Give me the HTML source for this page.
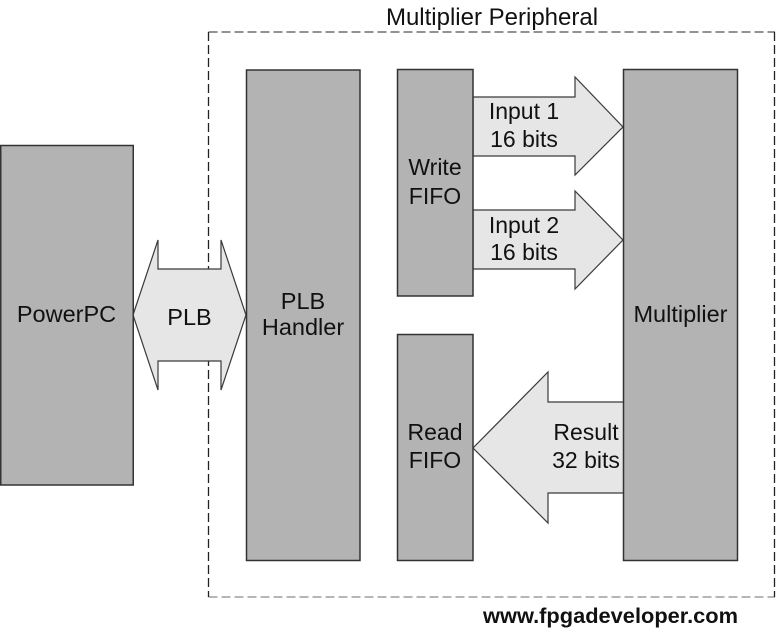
<!DOCTYPE html>
<html>
<head>
<meta charset="utf-8">
<style>
  html, body { margin: 0; padding: 0; background: #ffffff; }
  body { width: 776px; height: 638px; overflow: hidden; }
  svg { display: block; }
  text { font-family: "Liberation Sans", Arial, sans-serif; fill: #111111; }
</style>
</head>
<body>
<svg width="776" height="638" viewBox="0 0 776 638" xmlns="http://www.w3.org/2000/svg">
  <rect x="0" y="0" width="776" height="638" fill="#ffffff"/>

  <!-- Dashed peripheral boundary -->
  <line x1="208.5" y1="32" x2="775" y2="32" stroke="#6e6e6e" stroke-width="1.5" stroke-dasharray="9 4"/>
  <line x1="208.5" y1="597" x2="775" y2="597" stroke="#6e6e6e" stroke-width="1" stroke-dasharray="9 4"/>
  <line x1="208.5" y1="32" x2="208.5" y2="597" stroke="#222222" stroke-width="1.3" stroke-dasharray="9 4"/>
  <line x1="774.5" y1="32" x2="774.5" y2="597" stroke="#222222" stroke-width="1.3" stroke-dasharray="9 4"/>

  <text x="492" y="25" font-size="24" text-anchor="middle">Multiplier Peripheral</text>

  <!-- Arrows -->
  <polygon points="133,315 158,240 158,269 221,269 221,240 246,315 221,390 221,361 158,361 158,390"
           fill="#e6e6e6" stroke="#3a3a3a" stroke-width="1.2"/>
  <polygon points="473,97 575,97 575,77 623,127 575,175 575,156 473,156"
           fill="#e6e6e6" stroke="#3a3a3a" stroke-width="1.2"/>
  <polygon points="473,210 575,210 575,191 623,240 575,289 575,269 473,269"
           fill="#e6e6e6" stroke="#3a3a3a" stroke-width="1.2"/>
  <polygon points="624,402 548,402 548,372 473,448 548,523 548,493 624,493"
           fill="#e6e6e6" stroke="#3a3a3a" stroke-width="1.2"/>

  <!-- Boxes -->
  <rect x="0.75" y="145.5" width="132.5" height="339.5" fill="#b3b3b3" stroke="#333333" stroke-width="1.5"/>
  <rect x="246.5" y="70" width="113.5" height="490.5" fill="#b3b3b3" stroke="#333333" stroke-width="1.5"/>
  <rect x="397.5" y="69.5" width="75.5" height="226.5" fill="#b3b3b3" stroke="#333333" stroke-width="1.5"/>
  <rect x="397.5" y="334.5" width="75.5" height="226" fill="#b3b3b3" stroke="#333333" stroke-width="1.5"/>
  <rect x="623.5" y="69.5" width="114" height="491" fill="#b3b3b3" stroke="#333333" stroke-width="1.5"/>

  <!-- Labels -->
  <text x="66.5" y="322" font-size="23.5" text-anchor="middle">PowerPC</text>
  <text x="189.5" y="325" font-size="23.5" text-anchor="middle">PLB</text>
  <text x="303" y="309" font-size="23.5" text-anchor="middle">PLB</text>
  <text x="303" y="335" font-size="23.5" text-anchor="middle">Handler</text>
  <text x="435" y="175" font-size="23" text-anchor="middle">Write</text>
  <text x="435" y="204" font-size="23" text-anchor="middle">FIFO</text>
  <text x="524" y="119" font-size="23" text-anchor="middle">Input 1</text>
  <text x="524" y="147" font-size="23" text-anchor="middle">16 bits</text>
  <text x="524" y="233" font-size="23" text-anchor="middle">Input 2</text>
  <text x="524" y="260" font-size="23" text-anchor="middle">16 bits</text>
  <text x="680.5" y="322" font-size="23.5" text-anchor="middle">Multiplier</text>
  <text x="435" y="440" font-size="23" text-anchor="middle">Read</text>
  <text x="435" y="468" font-size="23" text-anchor="middle">FIFO</text>
  <text x="586" y="440" font-size="23" text-anchor="middle">Result</text>
  <text x="586" y="468" font-size="23" text-anchor="middle">32 bits</text>

  <!-- Footer -->
  <text x="483" y="623" font-size="21.6" font-weight="bold" textLength="255" lengthAdjust="spacingAndGlyphs">www.fpgadeveloper.com</text>
</svg>
</body>
</html>
